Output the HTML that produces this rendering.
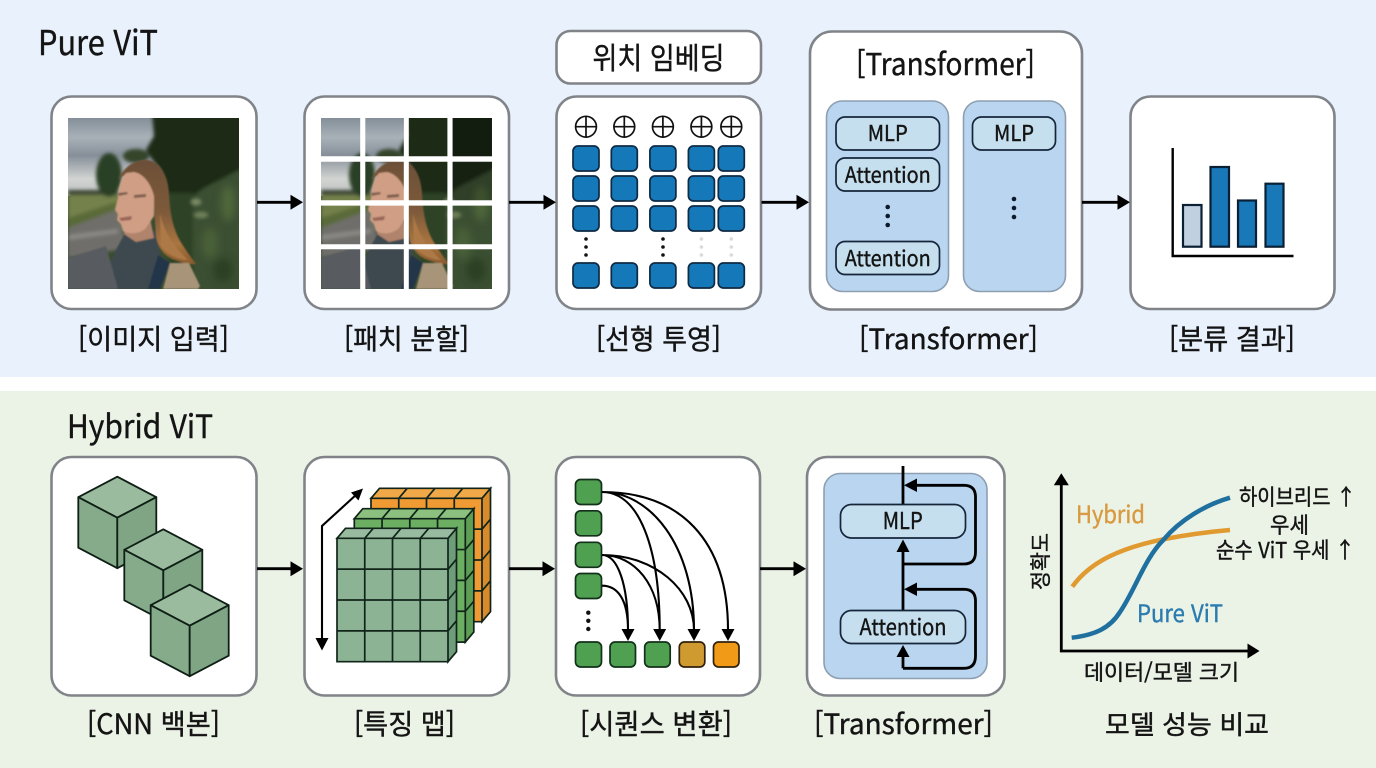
<!DOCTYPE html>
<html lang="ko"><head><meta charset="utf-8"><title>Pure ViT / Hybrid ViT</title>
<style>
html,body{margin:0;padding:0;background:#fff}
svg{display:block}
text{font-family:"Noto Sans CJK KR","Liberation Sans",sans-serif;fill:#141414;stroke:#141414;stroke-width:.4}
.box{fill:#fff;stroke:#808488;stroke-width:2.6}
.sq{fill:#1578b8;stroke:#0f2a44;stroke-width:1.7}
.mod{fill:#c5dfee;stroke:#16263a;stroke-width:1.7}
.inner{fill:#b9d5f0;stroke:#8d9fb0;stroke-width:1.6}
.g{fill:#4fa050;stroke:#12301a;stroke-width:1.7}
.ln{fill:none;stroke:#000;stroke-width:2.8}
.cv{fill:none;stroke:#000;stroke-width:2.1}
.c{stroke:#0f1f15;stroke-width:1.8;stroke-linejoin:round}
.grid{stroke:#10241a;stroke-width:1.7;fill:none}
</style></head><body>
<svg width="1376" height="768" viewBox="0 0 1376 768" xmlns="http://www.w3.org/2000/svg">
<defs>
<linearGradient id="sky" x1="0" y1="0" x2="0" y2="1"><stop offset="0" stop-color="#848f99"/><stop offset=".25" stop-color="#a9b1b8"/><stop offset=".48" stop-color="#868f99"/><stop offset=".78" stop-color="#d2d4d2"/><stop offset="1" stop-color="#bcc0c0"/></linearGradient>
<linearGradient id="hair" x1="0" y1="0" x2="0" y2="1"><stop offset="0" stop-color="#6b4f37"/><stop offset=".5" stop-color="#7e5a3a"/><stop offset=".8" stop-color="#a9743f"/><stop offset="1" stop-color="#8a5a2c"/></linearGradient>
<filter id="b1" x="-10%" y="-10%" width="120%" height="120%"><feGaussianBlur stdDeviation=".8"/></filter>
<filter id="b2" x="-10%" y="-10%" width="120%" height="120%"><feGaussianBlur stdDeviation="1.8"/></filter>
<filter id="b3" x="-20%" y="-20%" width="140%" height="140%"><feGaussianBlur stdDeviation="4"/></filter>
<clipPath id="pc"><rect width="171" height="171"/></clipPath>
<g id="photo" clip-path="url(#pc)">
<rect width="171" height="171" fill="#394c2f"/>
<rect width="100" height="78" fill="url(#sky)"/>
<g filter="url(#b2)">
<rect x="0" y="76" width="60" height="36" fill="#75814c"/>
<path d="M84 -5L175 -5L175 52L140 68L115 84L100 78L90 50L78 32L86 18Z" fill="#1c2c18"/>
<path d="M108 92L136 70L175 50L175 175L122 175Z" fill="#3b4f30"/>
<path d="M100 75L125 75L125 175L100 175Z" fill="#2f4327"/>
<ellipse cx="128" cy="84" rx="5" ry="3" fill="#7d8e66"/>
<ellipse cx="133" cy="97" rx="7" ry="3" fill="#6f8159"/>
<rect x="0" y="72" width="50" height="5" fill="#3a4434"/>
<ellipse cx="41" cy="57" rx="13" ry="22" fill="#2b4126"/>
<ellipse cx="68" cy="38" rx="13" ry="7" fill="#34452c"/>
<path d="M0 100L48 84L48 92L0 113Z" fill="#5a6a38"/>
<path d="M0 110L48 92L58 122L50 132L0 140Z" fill="#6f6e6b"/>
<path d="M0 117L50 111L50 115L0 122Z" fill="#8b8a85"/>
</g>
<g filter="url(#b3)">
<ellipse cx="142" cy="125" rx="8" ry="16" fill="#4a6137"/>
<ellipse cx="160" cy="85" rx="7" ry="18" fill="#4f683b"/>
<ellipse cx="155" cy="152" rx="10" ry="12" fill="#2c3f22"/>
</g>
<g filter="url(#b1)">
<path d="M50 128L56 117L87 113L92 135L84 171L30 171Z" fill="#3e4a50"/>
<path d="M0 140L38 128L50 171L0 171Z" fill="#585c60"/>
<path d="M56 104L82 100L86 120L68 124L56 116Z" fill="#b0836c"/>
<path d="M50 62C56 48 68 41 80 42C93 44 100 58 101 76C102 95 105 112 114 126C119 134 124 141 128 146C120 147 112 144 104 141C96 137 90 130 88 118L86 88C84 72 78 60 68 56C60 54 54 58 50 62Z" fill="url(#hair)"/>
<path d="M92 95C95 110 102 125 120 142C110 142 98 136 93 128Z" fill="#ad7a46"/>
<path d="M58 55C52 62 50 72 50 80L47 92L50 96L49 102L53 106L55 113C62 117 72 116 78 110L86 98L86 78C83 66 76 56 66 54Z" fill="#cf9e84"/>
<path d="M50 75L59 74L60 76L51 78ZM66 77L78 76L78 79L66 80Z" fill="#80604f"/>
<path d="M51 100L64 98L63 102L53 103Z" fill="#9a6658"/>
<path d="M90 137L102 145L92 171L80 171Z" fill="#24364a"/>
<path d="M102 145L121 145L132 168L130 171L95 171Z" fill="#a89478"/>
</g>
</g>
<g id="cube" class="c">
<path d="M0 0L39 20.5L0 41L-39 20.5Z" fill="#9bbb9f"/>
<path d="M-39 20.5L0 41L0 91.5L-39 71Z" fill="#85ab8b"/>
<path d="M39 20.5L0 41L0 91.5L39 71Z" fill="#7fa585"/>
</g>
<g id="stack">
<path d="M0 0L8.5 -10L119.5 -10L111 0Z" style="fill:var(--t)"/>
<path d="M111 0L119.5 -10L119.5 113.4L111 123.4Z" style="fill:var(--s)"/>
<rect width="111" height="123.4" style="fill:var(--f)"/>
<path class="grid" d="M0 0L8.5 -10L119.5 -10L111 0ZM111 0L119.5 -10L119.5 113.4L111 123.4ZM0 0H111V123.4H0ZM27.75 0V123.4M55.5 0V123.4M83.25 0V123.4M0 30.85H111M0 61.7H111M0 92.55H111M27.75 0L36.25 -10M55.5 0L64 -10M83.25 0L91.75 -10M111 30.85L119.5 20.85M111 61.7L119.5 51.7M111 92.55L119.5 82.55"/>
</g>
<g id="op"><circle r="10.4" fill="#fff" stroke="#111" stroke-width="1.7"/><path d="M-10.4 0H10.4M0 -10.4V10.4" stroke="#111" stroke-width="1.7"/></g>
<path id="ah" d="M-12.5 -7.5L0 0L-12.5 7.5Z" fill="#000"/>
<path id="ad" d="M-6.5 -12L6.5 -12L0 0Z" fill="#000"/>
</defs>

<rect x="0" y="0" width="1376" height="377" fill="#e8f1fc"/>
<rect x="0" y="391" width="1376" height="377" fill="#ebf2e6"/>

<text x="38" y="55" font-size="34" textLength="120" lengthAdjust="spacingAndGlyphs">Pure ViT</text>
<text x="67" y="438" font-size="32" textLength="146" lengthAdjust="spacingAndGlyphs">Hybrid ViT</text>

<!-- top row boxes -->
<rect class="box" x="51.5" y="96.5" width="205" height="212.5" rx="20"/>
<rect class="box" x="304.5" y="96.5" width="204.5" height="212.5" rx="20"/>
<rect class="box" x="556.5" y="31" width="204.5" height="52.5" rx="14"/>
<rect class="box" x="556.5" y="96.5" width="204.5" height="212.5" rx="20"/>
<rect class="box" x="810" y="31.5" width="272" height="278" rx="22"/>
<rect class="box" x="1130.5" y="96.5" width="204" height="212.5" rx="20"/>

<use href="#photo" x="68" y="118"/>
<use href="#photo" x="321" y="118"/>
<path d="M360.2 118H365.3V289H360.2ZM403.8 118H408.8V289H403.8ZM447.4 118H452.6V289H447.4ZM321 156.3H492V161.8H321ZM321 200.2H492V205.6H321ZM321 244.2H492V249.3H321Z" fill="#fff"/>
<rect x="452.6" y="118" width="39" height="38.3" fill="#000" opacity=".3"/>
<rect x="452.6" y="161.8" width="39" height="38.4" fill="#000" opacity=".2"/>

<!-- arrows top -->
<path class="ln" d="M257 202.3H292M509 202.3H545M761.5 202.3H798M1082 202.3H1119"/>
<use href="#ah" x="303" y="202.3"/><use href="#ah" x="556" y="202.3"/><use href="#ah" x="809" y="202.3"/><use href="#ah" x="1130" y="202.3"/>

<!-- embedding grid -->
<text x="658.5" y="69" font-size="30" text-anchor="middle" textLength="132" lengthAdjust="spacingAndGlyphs">위치 임베딩</text>
<use href="#op" x="586" y="126.7"/><use href="#op" x="624.3" y="126.7"/><use href="#op" x="662.9" y="126.7"/><use href="#op" x="701.4" y="126.7"/><use href="#op" x="731.3" y="126.7"/>
<g class="sq">
<rect x="573" y="146" width="26" height="25" rx="5"/><rect x="611.3" y="146" width="26" height="25" rx="5"/><rect x="649.9" y="146" width="26" height="25" rx="5"/><rect x="688.4" y="146" width="26" height="25" rx="5"/><rect x="718.3" y="146" width="26" height="25" rx="5"/>
<rect x="573" y="176" width="26" height="25" rx="5"/><rect x="611.3" y="176" width="26" height="25" rx="5"/><rect x="649.9" y="176" width="26" height="25" rx="5"/><rect x="688.4" y="176" width="26" height="25" rx="5"/><rect x="718.3" y="176" width="26" height="25" rx="5"/>
<rect x="573" y="206" width="26" height="25" rx="5"/><rect x="611.3" y="206" width="26" height="25" rx="5"/><rect x="649.9" y="206" width="26" height="25" rx="5"/><rect x="688.4" y="206" width="26" height="25" rx="5"/><rect x="718.3" y="206" width="26" height="25" rx="5"/>
<rect x="573" y="263" width="26" height="25" rx="5"/><rect x="611.3" y="263" width="26" height="25" rx="5"/><rect x="649.9" y="263" width="26" height="25" rx="5"/><rect x="688.4" y="263" width="26" height="25" rx="5"/><rect x="718.3" y="263" width="26" height="25" rx="5"/>
</g>
<g fill="#111"><circle cx="586" cy="239" r="1.8"/><circle cx="586" cy="247" r="1.8"/><circle cx="586" cy="255" r="1.8"/><circle cx="663" cy="239" r="1.8"/><circle cx="663" cy="247" r="1.8"/><circle cx="663" cy="255" r="1.8"/></g>
<g fill="#d8dadc"><circle cx="701.4" cy="239" r="1.8"/><circle cx="701.4" cy="247" r="1.8"/><circle cx="701.4" cy="255" r="1.8"/><circle cx="731.3" cy="239" r="1.8"/><circle cx="731.3" cy="247" r="1.8"/><circle cx="731.3" cy="255" r="1.8"/></g>

<!-- transformer top -->
<text x="945.5" y="75" font-size="30" text-anchor="middle" textLength="179" lengthAdjust="spacingAndGlyphs">[Transformer]</text>
<rect class="inner" x="826.5" y="101" width="122" height="190.5" rx="16"/>
<rect class="inner" x="963.5" y="101" width="102" height="190.5" rx="16"/>
<rect class="mod" x="836" y="117" width="103.5" height="33" rx="9"/>
<rect class="mod" x="836" y="158" width="103.5" height="33" rx="9"/>
<rect class="mod" x="836" y="241.5" width="103.5" height="33" rx="9"/>
<rect class="mod" x="972.5" y="117" width="83" height="33" rx="9"/>
<text x="887.7" y="141" font-size="21.5" text-anchor="middle" textLength="40" lengthAdjust="spacingAndGlyphs">MLP</text>
<text x="887.7" y="182.5" font-size="21.5" text-anchor="middle" textLength="86" lengthAdjust="spacingAndGlyphs">Attention</text>
<text x="887.7" y="266" font-size="21.5" text-anchor="middle" textLength="86" lengthAdjust="spacingAndGlyphs">Attention</text>
<text x="1014" y="141" font-size="21.5" text-anchor="middle" textLength="40" lengthAdjust="spacingAndGlyphs">MLP</text>
<g fill="#0c1a2c"><circle cx="887.7" cy="207" r="2.3"/><circle cx="887.7" cy="216" r="2.3"/><circle cx="887.7" cy="225" r="2.3"/><circle cx="1014" cy="199" r="2.3"/><circle cx="1014" cy="208" r="2.3"/><circle cx="1014" cy="217" r="2.3"/></g>

<!-- bar chart -->
<path d="M1172.7 148V256H1293.5" fill="none" stroke="#000" stroke-width="2.4"/>
<g stroke="#0a2035" stroke-width="2.2" fill="#1878b8">
<rect x="1183" y="205" width="18.5" height="41.7" fill="#c0d0e0"/>
<rect x="1210.5" y="167" width="18.5" height="79.7"/>
<rect x="1238" y="200.5" width="18" height="46.2"/>
<rect x="1265.5" y="183.7" width="18" height="63"/>
</g>

<!-- top labels -->
<g font-size="28">
<text x="78" y="349" textLength="151" lengthAdjust="spacingAndGlyphs">[이미지 입력]</text>
<text x="344" y="349" textLength="125" lengthAdjust="spacingAndGlyphs">[패치 분할]</text>
<text x="596" y="349" textLength="125" lengthAdjust="spacingAndGlyphs">[선형 투영]</text>
<text x="859" y="349" textLength="179" lengthAdjust="spacingAndGlyphs">[Transformer]</text>
<text x="1169" y="349" textLength="126" lengthAdjust="spacingAndGlyphs">[분류 결과]</text>
</g>

<!-- bottom boxes -->
<rect class="box" x="51.5" y="457" width="205" height="238.5" rx="20"/>
<rect class="box" x="304.5" y="457" width="204.5" height="238.5" rx="20"/>
<rect class="box" x="556" y="457" width="204" height="238.5" rx="20"/>
<rect class="box" x="807" y="457" width="197.5" height="238.5" rx="20"/>

<path class="ln" d="M257 568.7H292M509 568.7H544M760 568.7H795"/>
<use href="#ah" x="303" y="568.7"/><use href="#ah" x="555" y="568.7"/><use href="#ah" x="806" y="568.7"/>

<!-- cubes -->
<use href="#cube" x="117.3" y="476.7"/><use href="#cube" x="163.3" y="529.3"/><use href="#cube" x="189.7" y="584.7"/>

<!-- feature map -->
<g style="--f:#ef9a32;--t:#f0a848;--s:#d98a2a"><use href="#stack" x="371" y="498.3"/></g>
<g style="--f:#6cae62;--t:#8cc07f;--s:#5d9f55"><use href="#stack" x="354.3" y="518.7"/></g>
<g style="--f:#8cb394;--t:#98ba9f;--s:#6f9c7a"><use href="#stack" x="337" y="538.3"/></g>
<path class="cv" d="M322 640V526L357 494"/>
<path d="M315.5 638L328.5 638L322 650.5Z" fill="#000"/>
<path d="M363 488.5L358.5 500.5L351 492.5Z" fill="#000"/>

<!-- sequence -->
<g class="g">
<rect x="575.5" y="479.5" width="26" height="25" rx="5"/><rect x="575.5" y="510.8" width="26" height="25" rx="5"/><rect x="575.5" y="542.3" width="26" height="25" rx="5"/><rect x="575.5" y="573.5" width="26" height="25" rx="5"/>
<rect x="575.5" y="642" width="26" height="25" rx="5"/><rect x="610" y="642" width="25.5" height="25" rx="5"/><rect x="644.7" y="642" width="25.5" height="25" rx="5"/>
<rect x="679.3" y="642" width="25.5" height="25" rx="5" style="fill:#cf9a30;stroke:#30220c"/>
<rect x="713.5" y="642" width="25.5" height="25" rx="5" style="fill:#f09a18;stroke:#30220c"/>
</g>
<g fill="#111"><circle cx="588.3" cy="612.7" r="2.2"/><circle cx="588.3" cy="620.8" r="2.2"/><circle cx="588.3" cy="629" r="2.2"/></g>
<path class="cv" d="M602 492C640 492 659.7 550 659.7 630M602 492C650 492 694 545 694 630M602 492C680 492 728 540 728 630M602 555C618 555 628 585 628 630M602 555C635 555 659.7 585 659.7 630M602 555C655 555 694 590 694 630M602 585.7C618 585.7 628 600 628 630"/>
<use href="#ad" x="628" y="641"/><use href="#ad" x="659.7" y="641"/><use href="#ad" x="694" y="641"/><use href="#ad" x="728" y="641"/>

<!-- transformer bottom -->
<rect class="inner" x="824" y="473.5" width="163" height="205" rx="16"/>
<path class="ln" d="M903 466V504M903 610V551M903 564H964Q975.5 564 975.5 552V497Q975.5 485.3 964 485.3H916M903 668.3V656M903 668.3H964Q975.5 668.3 975.5 656V601Q975.5 589.3 964 589.3H916"/>
<rect class="mod" x="840.5" y="504.5" width="125" height="33.5" rx="11"/>
<rect class="mod" x="840.5" y="610.5" width="125" height="33" rx="11"/>
<path d="M896.5 552H909.5L903 539.5ZM896.5 657H909.5L903 645ZM917 478.5V492L904 485.3ZM917 582.5V596L904 589.3Z" fill="#000"/>
<text x="902.7" y="529" font-size="23.5" text-anchor="middle" textLength="40" lengthAdjust="spacingAndGlyphs">MLP</text>
<text x="903" y="635" font-size="22.5" text-anchor="middle" textLength="87" lengthAdjust="spacingAndGlyphs">Attention</text>

<!-- chart -->
<path d="M1061.3 483V651H1249" fill="none" stroke="#000" stroke-width="2.8"/>
<path d="M1053.8 485.3H1068.8L1061.3 473.3Z" fill="#000"/>
<path d="M1247.5 643.5V658.5L1259.5 651Z" fill="#000"/>
<path d="M1072.3 586.7C1090 562 1120 548 1163.3 539.3C1185 535 1207 532 1230 530" fill="none" stroke="#e09a30" stroke-width="4.5"/>
<path d="M1071.7 637.7C1095 635 1110 628 1120 612C1135 590 1145 558 1163.3 540C1180 520 1205 505 1230 497.7" fill="none" stroke="#1f6f9f" stroke-width="4.5"/>
<text x="1076" y="523" font-size="24" textLength="69" lengthAdjust="spacingAndGlyphs" style="fill:#d99a3f;stroke:#d99a3f">Hybrid</text>
<text x="1137" y="622" font-size="24" textLength="86" lengthAdjust="spacingAndGlyphs" style="fill:#2a7bb0;stroke:#2a7bb0">Pure ViT</text>
<text x="1239" y="505" font-size="22" textLength="117" lengthAdjust="spacingAndGlyphs">하이브리드 ↑</text>
<text x="1270" y="533" font-size="22" textLength="39" lengthAdjust="spacingAndGlyphs">우세</text>
<text x="1216" y="558" font-size="22" textLength="139" lengthAdjust="spacingAndGlyphs">순수 ViT 우세 ↑</text>
<text x="1084" y="680" font-size="21.5" textLength="155" lengthAdjust="spacingAndGlyphs">데이터/모델 크기</text>
<text transform="translate(1048 590) rotate(-90)" font-size="21" textLength="57" lengthAdjust="spacingAndGlyphs">정확도</text>

<!-- bottom labels -->
<g font-size="28">
<text x="87" y="734" textLength="133" lengthAdjust="spacingAndGlyphs">[CNN 백본]</text>
<text x="354" y="734" textLength="101" lengthAdjust="spacingAndGlyphs">[특징 맵]</text>
<text x="580" y="734" textLength="152" lengthAdjust="spacingAndGlyphs">[시퀀스 변환]</text>
<text x="814" y="734" textLength="179" lengthAdjust="spacingAndGlyphs">[Transformer]</text>
<text x="1105" y="734" font-size="26" textLength="164" lengthAdjust="spacingAndGlyphs">모델 성능 비교</text>
</g>
</svg>
</body></html>
